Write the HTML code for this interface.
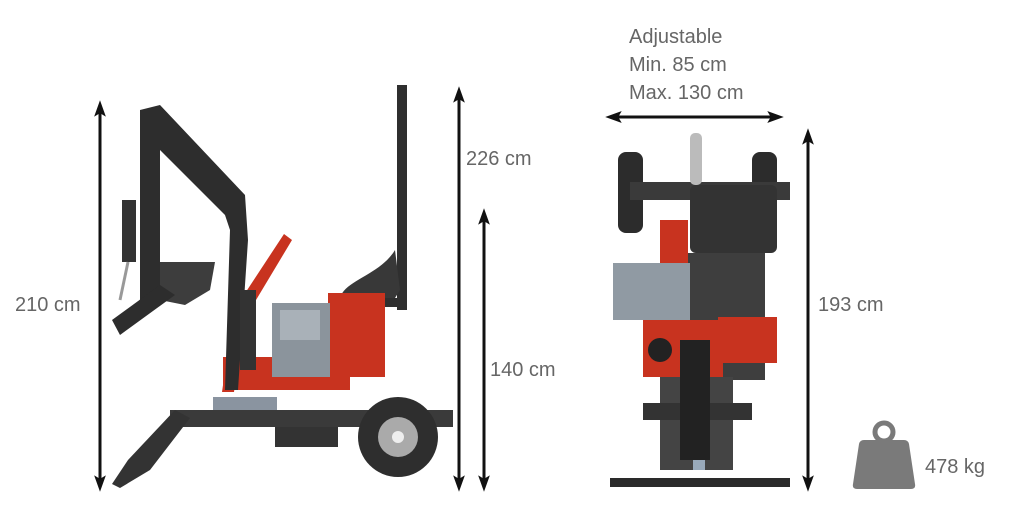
<!DOCTYPE html>
<html><head><meta charset="utf-8"><style>
html,body{margin:0;padding:0;background:#fff;}
body{width:1024px;height:523px;overflow:hidden;position:relative;font-family:"Liberation Sans",sans-serif;}
.t{position:absolute;color:#666;font-size:20px;line-height:28px;white-space:nowrap;}
</style></head><body>
<svg width="1024" height="523" style="position:absolute;left:0;top:0">
<defs>
<marker id="a" viewBox="0 0 14 10" refX="4" refY="5" markerWidth="5.5" markerHeight="5" orient="auto-start-reverse"><path d="M0,0 L14,5 L0,10 L3,5 z" fill="#111"/></marker>
</defs>
<g stroke="#111" stroke-width="3" fill="none">
<line x1="100" y1="112" x2="100" y2="480" marker-start="url(#a)" marker-end="url(#a)"/>
<line x1="459" y1="98" x2="459" y2="480" marker-start="url(#a)" marker-end="url(#a)"/>
<line x1="484" y1="220" x2="484" y2="480" marker-start="url(#a)" marker-end="url(#a)"/>
<line x1="617" y1="117" x2="772" y2="117" marker-start="url(#a)" marker-end="url(#a)"/>
<line x1="808" y1="140" x2="808" y2="480" marker-start="url(#a)" marker-end="url(#a)"/>
</g>
<!-- side view -->
<g>
<rect x="170" y="410" width="283" height="17" fill="#3a3a3a"/>
<rect x="275" y="427" width="63" height="20" fill="#333"/>
<circle cx="398" cy="437" r="40" fill="#2e2e2e"/>
<circle cx="398" cy="437" r="20" fill="#aaa"/>
<circle cx="398" cy="437" r="6" fill="#eee"/>
<polygon points="175,410 190,418 150,470 120,488 112,484 128,460" fill="#333"/>
<rect x="213" y="397" width="64" height="13" fill="#8a94a0"/>
<rect x="397" y="85" width="10" height="225" fill="#2f2f2f"/>
<rect x="340" y="298" width="67" height="9" fill="#2f2f2f"/>
<path d="M340,298 C345,280 380,275 395,250 L400,290 L395,298 Z" fill="#383838"/>
<rect x="223" y="357" width="127" height="33" fill="#c8331f"/>
<rect x="328" y="293" width="57" height="84" fill="#c8331f"/>
<rect x="272" y="303" width="58" height="74" fill="#8b949c"/>
<rect x="280" y="310" width="40" height="30" fill="#a9b1b8"/>
<polygon points="222,392 234,392 244,320 292,240 284,234 234,310" fill="#c8331f"/>
<polygon points="140,110 160,105 245,195 248,240 238,390 225,390 230,230 225,215 160,150 160,300 140,300" fill="#2d2d2d"/>
<rect x="122" y="200" width="14" height="62" fill="#333"/>
<line x1="128" y1="262" x2="120" y2="300" stroke="#999" stroke-width="3"/>
<polygon points="160,262 215,262 210,290 185,305 160,300" fill="#3d3d3d"/>
<polygon points="112,320 160,285 175,295 120,335" fill="#2d2d2d"/>
<rect x="240" y="290" width="16" height="80" fill="#333"/>
</g>
<!-- front view -->
<g>
<rect x="618" y="152" width="25" height="81" rx="8" fill="#2c2c2c"/>
<rect x="752" y="152" width="25" height="81" rx="8" fill="#2c2c2c"/>
<rect x="630" y="182" width="160" height="18" fill="#3a3a3a"/>
<rect x="690" y="133" width="12" height="52" rx="5" fill="#bbb"/>
<rect x="690" y="185" width="87" height="68" rx="6" fill="#333"/>
<rect x="688" y="253" width="77" height="127" fill="#3e3e3e"/>
<rect x="660" y="220" width="28" height="47" fill="#c8331f"/>
<rect x="613" y="263" width="77" height="57" fill="#909aa3"/>
<rect x="643" y="320" width="80" height="57" fill="#c8331f"/>
<rect x="718" y="317" width="59" height="46" fill="#c8331f"/>
<circle cx="660" cy="350" r="12" fill="#222"/>
<rect x="660" y="377" width="73" height="93" fill="#444"/>
<rect x="643" y="403" width="109" height="17" fill="#333"/>
<rect x="693" y="405" width="12" height="65" fill="#9ab"/>
<rect x="680" y="340" width="30" height="120" fill="#222"/>
<rect x="610" y="478" width="180" height="9" fill="#2a2a2a"/>
</g>
<!-- weight -->
<circle cx="884" cy="432" r="9" fill="none" stroke="#7a7a7a" stroke-width="5"/>
<path d="M864,440 L904,440 Q908,440 909,444 L915,484 Q916,489 911,489 L857,489 Q852,489 853,484 L859,444 Q860,440 864,440 Z" fill="#7a7a7a"/>
</svg>
<div class="t" style="left:15px;top:291px">210 cm</div>
<div class="t" style="left:466px;top:145px">226 cm</div>
<div class="t" style="left:490px;top:356px">140 cm</div>
<div class="t" style="left:629px;top:23px">Adjustable</div>
<div class="t" style="left:629px;top:51px">Min. 85 cm</div>
<div class="t" style="left:629px;top:79px">Max. 130 cm</div>
<div class="t" style="left:818px;top:291px">193 cm</div>
<div class="t" style="left:925px;top:453px">478 kg</div>
</body></html>
